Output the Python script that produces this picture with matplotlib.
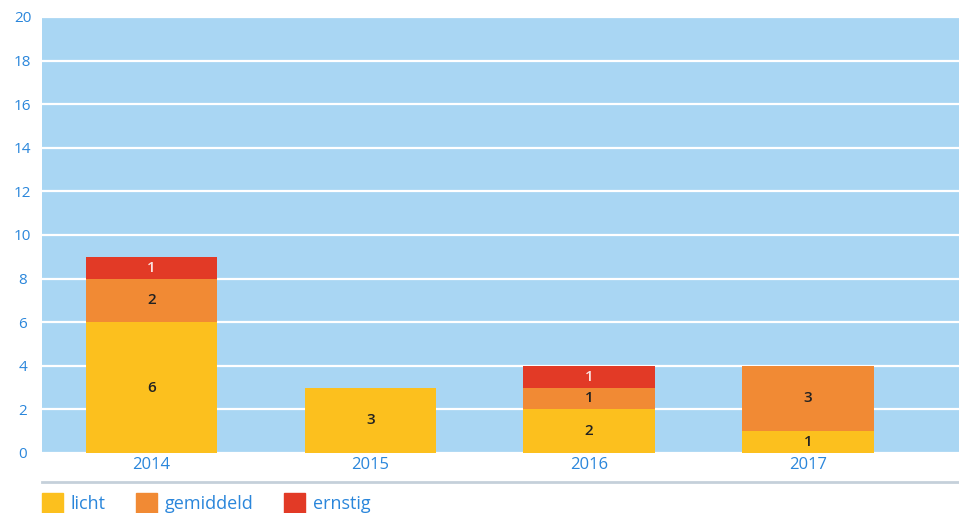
import matplotlib

matplotlib.use("Agg")
import matplotlib.pyplot as plt
from matplotlib.lines import Line2D
from matplotlib.patches import Rectangle

years = ["2014", "2015", "2016", "2017"]
licht = [6, 3, 2, 1]
gemiddeld = [2, 0, 1, 3]
ernstig = [1, 0, 1, 0]
series_names = ["licht", "gemiddeld", "ernstig"]
y_ticks = [0, 2, 4, 6, 8, 10, 12, 14, 16, 18, 20]

BG = "#a9d6f3"
BLUE_TEXT = "#2a86db"
COLORS = ["#fcc01e", "#f18a34", "#e23a26"]
LABEL_COLORS = ["#222222", "#222222", "#fbe3e0"]

plt.rcParams["font.family"] = ["Open Sans", "DejaVu Sans"]

W, H = 959, 513
fig = plt.figure(figsize=(W / 100, H / 100), dpi=100)
ax = fig.add_axes([42 / W, (H - 453) / H, (W - 42) / W, (453 - 17) / H])
ax.set_facecolor(BG)

x = list(range(len(years)))
bottoms = [0] * len(years)
for values, color, lcolor in zip([licht, gemiddeld, ernstig], COLORS, LABEL_COLORS):
    ax.bar(x, values, width=0.6, bottom=bottoms, color=color, zorder=3)
    for xi, v, b in zip(x, values, bottoms):
        if v > 0:
            ax.text(xi, b + v / 2, str(v), ha="center", va="center",
                    fontsize=11, fontweight="semibold", color=lcolor, zorder=4)
    bottoms = [b + v for b, v in zip(bottoms, values)]

ax.set_xlim(-0.5, 3.69)
ax.set_ylim(0, 20)
ax.set_yticks(y_ticks)
ax.set_yticklabels([str(t) for t in y_ticks])
ax.set_xticks(x)
ax.set_xticklabels(years)
ax.tick_params(axis="both", length=0, labelcolor=BLUE_TEXT, labelsize=12)
ax.tick_params(axis="y", pad=14, labelsize=11)
ax.tick_params(axis="x", pad=3)
for lab in ax.get_yticklabels():
    lab.set_horizontalalignment("center")
ax.grid(True, axis="y", color="white", linewidth=1.6, zorder=1)
for side in ax.spines.values():
    side.set_visible(False)

# separator line under the chart
fig.add_artist(Line2D([42 / W, 1], [1 - 482 / H] * 2, color="#c5d0da",
                      linewidth=2, transform=fig.transFigure))

# legend along the bottom edge
legend_x = [42, 136, 284]
text_x = [71, 165, 313]
for name, color, lx, tx in zip(series_names, COLORS, legend_x, text_x):
    fig.add_artist(Rectangle((lx / W, 0), 21 / W, 20 / H, color=color,
                             transform=fig.transFigure))
    fig.text(tx / W, 1 - 504 / H, name, color=BLUE_TEXT, fontsize=13,
             va="center", ha="left")

fig.savefig("out.png", dpi=100)
